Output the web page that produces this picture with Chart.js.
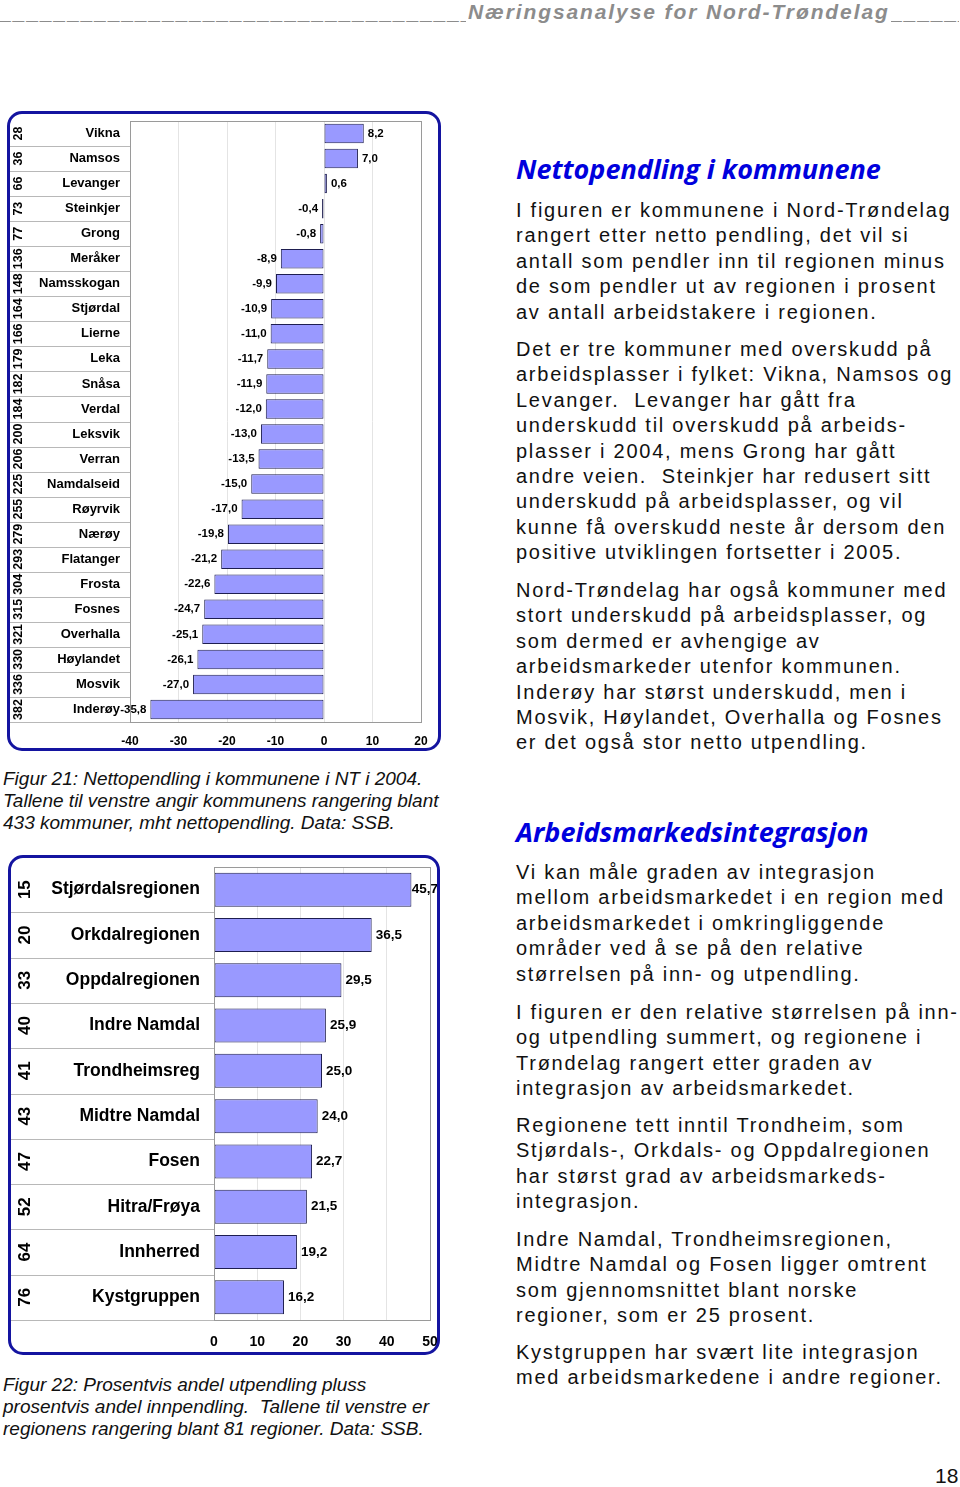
<!DOCTYPE html>
<html>
<head>
<meta charset="utf-8">
<script src="https://cdn.jsdelivr.net/npm/chart.js@4.4.1/dist/chart.umd.min.js"></script>
<style>
  body { margin: 0; background: #fff; width: 960px; height: 1487px; position: relative; overflow: hidden; font-family: "Liberation Sans", Arial, sans-serif; }
  .abs { position: absolute; white-space: nowrap; }
  .hdr { top: -1px; font-size: 21px; font-weight: bold; font-style: italic; color: #8c8c8c; letter-spacing: 1.9px; line-height: 26px; overflow: hidden; }
  .box { position: absolute; border: 3px solid #1414a0; border-radius: 15px; box-sizing: border-box; pointer-events: none; }
  canvas { position: absolute; left: 0; }
  .cap { font-style: italic; font-size: 19px; line-height: 22px; color: #111; }
  .h { font-family: "Open Sans", sans-serif; font-weight: bold; font-style: italic; font-size: 27px; color: #0000dd; line-height: 30px; }
  .p { font-size: 20px; letter-spacing: 1.75px; line-height: 25.4px; color: #111; }
</style>
</head>
<body>
<div class="abs hdr" style="left:0;width:466px;">____________________________________________________________</div>
<div class="abs hdr" style="left:468px;">Næringsanalyse for Nord-Trøndelag</div>
<div class="abs hdr" style="left:891px;width:68px;">______________</div>

<canvas id="c1" width="440" height="640" style="top:111px"></canvas>
<div class="box" style="left:7px;top:111px;width:434px;height:640px;"></div>
<div class="abs cap" style="left:3px;top:768px;">Figur 21: Nettopendling i kommunene i NT i 2004.<br>Tallene til venstre angir kommunens rangering blant<br>433 kommuner, mht nettopendling. Data: SSB.</div>

<canvas id="c2" width="440" height="500" style="top:855px"></canvas>
<div class="box" style="left:8px;top:855px;width:432px;height:500px;"></div>
<div class="abs cap" style="left:3px;top:1374px;">Figur 22: Prosentvis andel utpendling pluss<br>prosentvis andel innpendling.&nbsp; Tallene til venstre er<br>regionens rangering blant 81 regioner. Data: SSB.</div>

<div class="abs h" style="left:516px;top:154px;">Nettopendling i kommunene</div>
<div class="abs p" style="left:516px;top:198px;">I figuren er kommunene i Nord-Trøndelag<br>rangert etter netto pendling, det vil si<br>antall som pendler inn til regionen minus<br>de som pendler ut av regionen i prosent<br>av antall arbeidstakere i regionen.</div>
<div class="abs p" style="left:516px;top:337px;">Det er tre kommuner med overskudd på<br>arbeidsplasser i fylket: Vikna, Namsos og<br>Levanger.&nbsp; Levanger har gått fra<br>underskudd til overskudd på arbeids-<br>plasser i 2004, mens Grong har gått<br>andre veien.&nbsp; Steinkjer har redusert sitt<br>underskudd på arbeidsplasser, og vil<br>kunne få overskudd neste år dersom den<br>positive utviklingen fortsetter i 2005.</div>
<div class="abs p" style="left:516px;top:578px;">Nord-Trøndelag har også kommuner med<br>stort underskudd på arbeidsplasser, og<br>som dermed er avhengige av<br>arbeidsmarkeder utenfor kommunen.<br>Inderøy har størst underskudd, men i<br>Mosvik, Høylandet, Overhalla og Fosnes<br>er det også stor netto utpendling.</div>

<div class="abs h" style="left:516px;top:817px;">Arbeidsmarkedsintegrasjon</div>
<div class="abs p" style="left:516px;top:860px;">Vi kan måle graden av integrasjon<br>mellom arbeidsmarkedet i en region med<br>arbeidsmarkedet i omkringliggende<br>områder ved å se på den relative<br>størrelsen på inn- og utpendling.</div>
<div class="abs p" style="left:516px;top:1000px;">I figuren er den relative størrelsen på inn-<br>og utpendling summert, og regionene i<br>Trøndelag rangert etter graden av<br>integrasjon av arbeidsmarkedet.</div>
<div class="abs p" style="left:516px;top:1113px;">Regionene tett inntil Trondheim, som<br>Stjørdals-, Orkdals- og Oppdalregionen<br>har størst grad av arbeidsmarkeds-<br>integrasjon.</div>
<div class="abs p" style="left:516px;top:1227px;">Indre Namdal, Trondheimsregionen,<br>Midtre Namdal og Fosen ligger omtrent<br>som gjennomsnittet blant norske<br>regioner, som er 25 prosent.</div>
<div class="abs p" style="left:516px;top:1340px;">Kystgruppen har svært lite integrasjon<br>med arbeidsmarkedene i andre regioner.</div>

<div class="abs" style="left:935px;top:1464px;font-size:21px;color:#111;">18</div>

<script>
// Figur 21: nettopendling i kommunene, 2004
const kommuner = ["Vikna", "Namsos", "Levanger", "Steinkjer", "Grong", "Meråker", "Namsskogan", "Stjørdal",
  "Lierne", "Leka", "Snåsa", "Verdal", "Leksvik", "Verran", "Namdalseid", "Røyrvik", "Nærøy", "Flatanger",
  "Frosta", "Fosnes", "Overhalla", "Høylandet", "Mosvik", "Inderøy"];
const kommuneRang = [28, 36, 66, 73, 77, 136, 148, 164, 166, 179, 182, 184, 200, 206, 225, 255, 279, 293, 304, 315, 321, 330, 336, 382];
const nettopendling = [8.2, 7.0, 0.6, -0.4, -0.8, -8.9, -9.9, -10.9, -11.0, -11.7, -11.9, -12.0, -13.0, -13.5,
  -15.0, -17.0, -19.8, -21.2, -22.6, -24.7, -25.1, -26.1, -27.0, -35.8];
const nettoMin = -40, nettoMax = 20, nettoStep = 10;

// Figur 22: andel ut- pluss innpendling
const regioner = ["Stjørdalsregionen", "Orkdalregionen", "Oppdalregionen", "Indre Namdal", "Trondheimsreg",
  "Midtre Namdal", "Fosen", "Hitra/Frøya", "Innherred", "Kystgruppen"];
const regionRang = [15, 20, 33, 40, 41, 43, 47, 52, 64, 76];
const integrasjon = [45.7, 36.5, 29.5, 25.9, 25.0, 24.0, 22.7, 21.5, 19.2, 16.2];
const integMin = 0, integMax = 50, integStep = 10;

const fmt = v => v.toFixed(1).replace(".", ",");

// rank column, row separators and plot frame
const rankTable = {
  id: "rankTable",
  afterDraw(chart, args, opts) {
    const { ctx, chartArea: a, scales: { y } } = chart;
    const n = chart.data.labels.length;
    ctx.save();
    ctx.lineWidth = 1;
    ctx.strokeStyle = "#b8b8b8";
    for (let i = 0; i < n; i++) {
      const yy = Math.round(i < n - 1 ? (y.getPixelForValue(i) + y.getPixelForValue(i + 1)) / 2 : a.bottom) + 0.5;
      ctx.beginPath();
      ctx.moveTo(9, yy);
      ctx.lineTo(a.left, yy);
      ctx.stroke();
    }
    ctx.strokeStyle = "#9a9a9a";
    ctx.strokeRect(Math.round(a.left) + 0.5, Math.round(a.top) + 0.5, Math.round(a.width), Math.round(a.height));
    ctx.fillStyle = "#000";
    ctx.font = opts.font;
    ctx.textAlign = "center";
    ctx.textBaseline = "middle";
    opts.ranks.forEach((r, i) => {
      ctx.save();
      ctx.translate(opts.x, y.getPixelForValue(i));
      ctx.rotate(-Math.PI / 2);
      ctx.fillText(String(r), 0, 0);
      ctx.restore();
    });
    ctx.restore();
  }
};

// value labels at bar ends (kept inside the canvas like Excel does)
const barValues = {
  id: "barValues",
  afterDatasetsDraw(chart, args, opts) {
    const { ctx } = chart;
    const data = chart.data.datasets[0].data;
    ctx.save();
    ctx.font = opts.font;
    ctx.fillStyle = "#000";
    ctx.textBaseline = "middle";
    chart.getDatasetMeta(0).data.forEach((bar, i) => {
      const v = data[i];
      const txt = fmt(v);
      if (v >= 0) {
        ctx.textAlign = "left";
        const w = ctx.measureText(txt).width;
        ctx.fillText(txt, Math.min(bar.x + 4, chart.width - 2 - w), bar.y);
      } else {
        ctx.textAlign = "right";
        ctx.fillText(txt, bar.x - 4, bar.y);
      }
    });
    ctx.restore();
  }
};

function makeChart(id, labels, values, ranks, o) {
  return new Chart(document.getElementById(id), {
    type: "bar",
    data: {
      labels: labels,
      datasets: [{
        data: values,
        backgroundColor: "#9999ff",
        borderColor: "#1e1e50",
        borderWidth: 1,
        borderSkipped: false,
        barPercentage: o.barPct,
        categoryPercentage: 1
      }]
    },
    options: {
      indexAxis: "y",
      responsive: false,
      animation: false,
      layout: { padding: { top: o.top, right: o.right, bottom: 0, left: 0 } },
      scales: {
        x: {
          min: o.min, max: o.max,
          ticks: { stepSize: o.step, color: "#000", padding: o.tickPad, font: { family: "Liberation Sans", weight: "bold", size: o.tickSize } },
          grid: { color: "#e4e4e4", drawTicks: false },
          border: { display: false },
          afterFit: s => { s.height = o.xHeight; s.paddingLeft = 0; s.paddingRight = 0; }
        },
        y: {
          ticks: { color: "#000", padding: o.namePad, font: { family: "Liberation Sans", weight: "bold", size: o.nameSize } },
          grid: { display: false, drawTicks: false },
          border: { display: false },
          afterFit: s => { s.width = o.yWidth; s.paddingTop = 0; s.paddingBottom = 0; }
        }
      },
      plugins: {
        legend: { display: false },
        tooltip: { enabled: false },
        rankTable: { ranks: ranks, x: o.rankX, font: "bold " + o.rankSize + "px 'Liberation Sans'" },
        barValues: { font: "bold " + o.valSize + "px 'Liberation Sans'" }
      }
    },
    plugins: [rankTable, barValues]
  });
}

makeChart("c1", kommuner, nettopendling, kommuneRang, {
  min: nettoMin, max: nettoMax, step: nettoStep,
  top: 10, right: 19, yWidth: 130, xHeight: 29, tickPad: 12,
  barPct: 0.78, tickSize: 12, nameSize: 13, namePad: 10, rankX: 19, rankSize: 12.5, valSize: 11.5
});

makeChart("c2", regioner, integrasjon, regionRang, {
  min: integMin, max: integMax, step: integStep,
  top: 12, right: 10, yWidth: 214, xHeight: 35, tickPad: 14,
  barPct: 0.75, tickSize: 14, nameSize: 17.5, namePad: 14, rankX: 25, rankSize: 17, valSize: 13.5
});
</script>
</body>
</html>
